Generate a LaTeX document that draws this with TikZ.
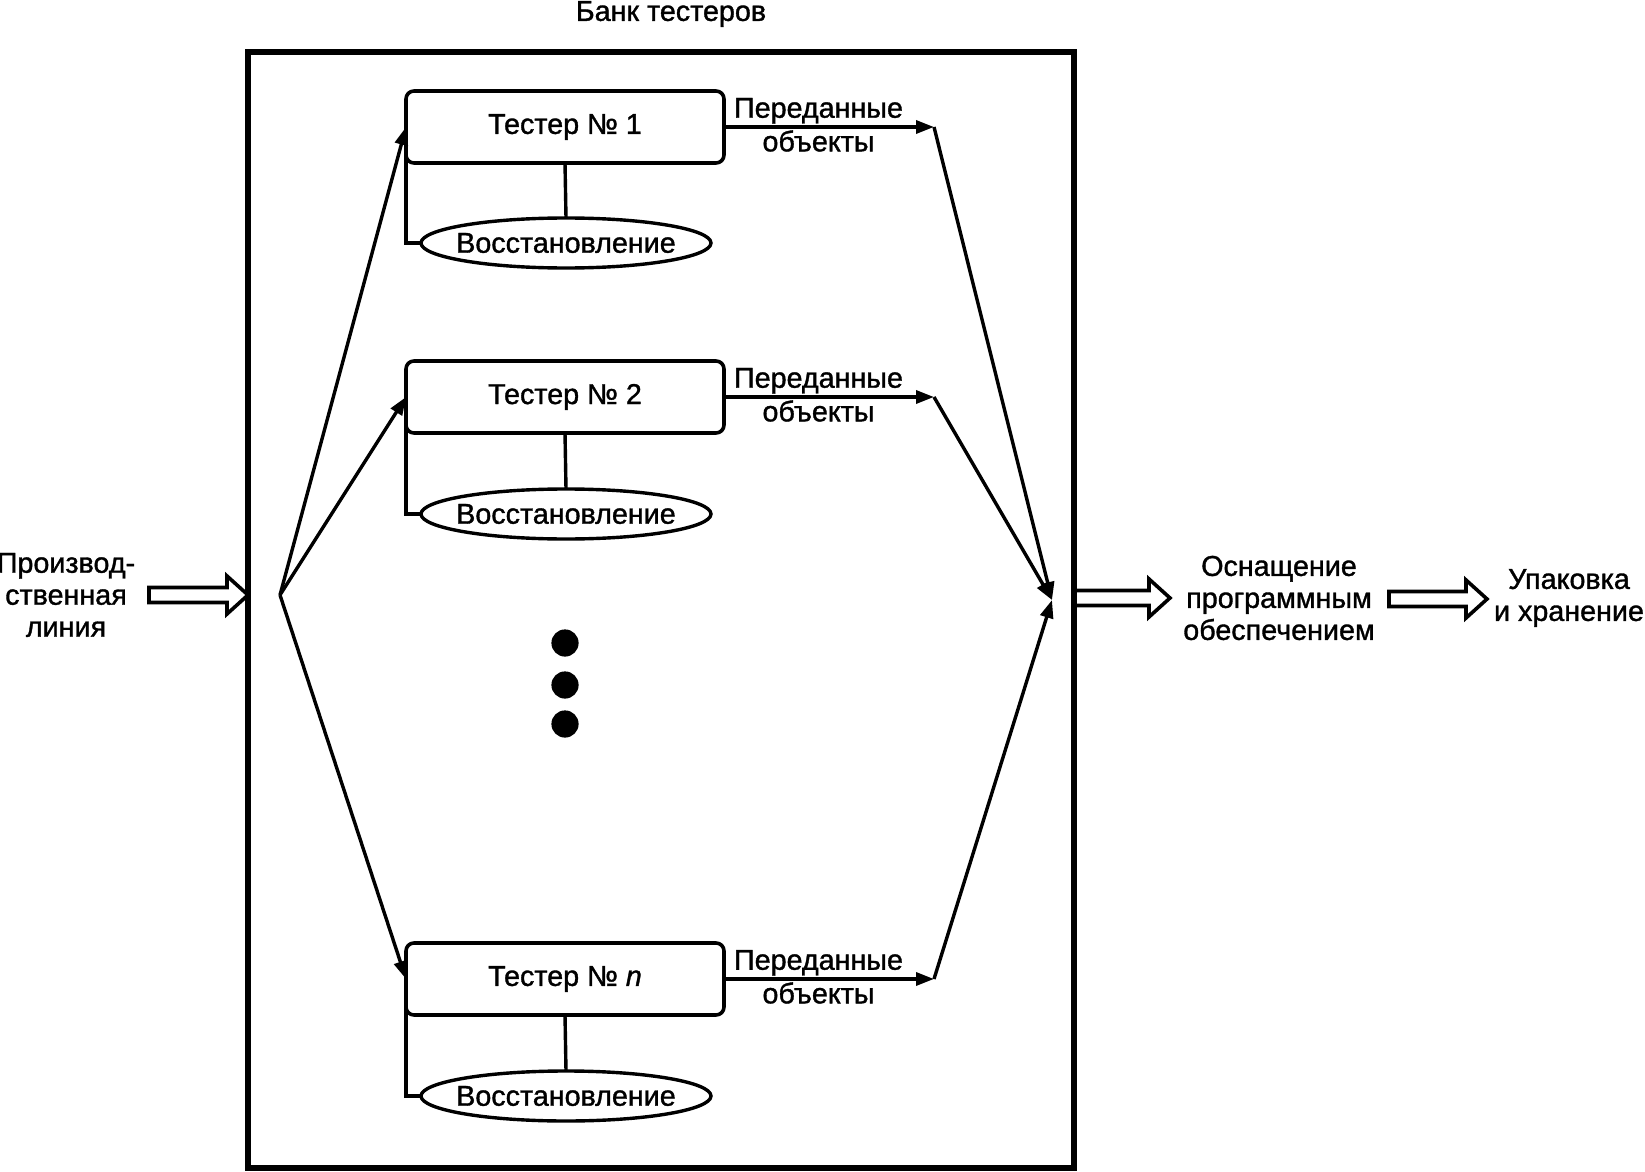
\documentclass[tikz,border=0pt]{standalone}
\usepackage{fontspec}
\setmainfont{Liberation Sans}[FakeBold=1.2]
\usetikzlibrary{arrows.meta,positioning,calc,shapes.geometric}
\tikzset{
  tester/.style={draw,line width=1.8pt,rounded corners=4pt,outer sep=0pt,
    minimum width=159pt,minimum height=36pt,inner sep=0pt},
  repair/.style={draw,ellipse,line width=1.7pt,outer sep=0pt,
    minimum width=145pt,minimum height=25pt,inner ysep=0pt,inner xsep=-6pt},
  flow/.style={line width=1.7pt,-{Triangle[length=9pt,width=6.5pt]}},
  link/.style={line width=1.7pt},
  fatline/.style={line width=1.8pt,line join=miter},
  lbl/.style={align=center,inner sep=0.8pt},
  dot/.style={circle,fill,minimum size=13.6pt,inner sep=0pt}
}
\newcommand{\fatarrow}[2]{%
  \draw[fatline] ($(#1)+(0,-7.5)$) -- ($(#2)+(-21,-7.5)$) -- ($(#2)+(-21,-19)$) -- (#2)
    -- ($(#2)+(-21,19)$) -- ($(#2)+(-21,7.5)$) -- ($(#1)+(0,7.5)$) -- cycle;}

\begin{document}
\begin{tikzpicture}[x=0.5pt,y=-0.5pt,font=\fontsize{14.35}{16}\selectfont]
  \useasboundingbox (0,0) rectangle (1645,1172);
  % tester bank
  \node[lbl] (title) at (671,14) {Банк тестеров};
  \coordinate (bank nw) at (248,52);
  \coordinate (bank se) at (1074,1168);
  \draw[line width=2.6pt] (bank nw) rectangle (bank se);
  % testers and their repair
  \node[tester] (t1) at (565,127) {Тестер № 1};
  \node[tester] (t2) at (565,397) {Тестер № 2};
  \node[tester] (tn) at (565,979) {Тестер № \textit{n}};
  \node[repair] (e1) at (566,243) {Восстановление};
  \node[repair] (e2) at (566,514) {Восстановление};
  \node[repair] (en) at (566,1096) {Восстановление};
  \foreach \t/\e in {t1/e1,t2/e2,tn/en}{
    \draw[link] (\t.south) -- (\e.north);
    \draw[link] (\t.west) |- (\e.west);
  }
  \node[dot] (d1) at (565,643) {};
  \node[dot] (d2) at (565,685) {};
  \node[dot] (d3) at (565,724) {};
  % split and merge
  \coordinate (split) at (280,595);
  \coordinate (merge) at (1052,600);
  \coordinate (o1) at (934,127);
  \coordinate (o2) at (934,397);
  \coordinate (on) at (934,979);
  \foreach \t/\o in {t1/o1,t2/o2,tn/on}{
    \draw[flow] (split) -- (\t.west);
    \draw[flow] (\t.east) -- node[pos=0.45,above,lbl] {Переданные}
      node[pos=0.45,below,lbl] {объекты} (\o);
    \draw[flow] (\o) -- (merge);
  }
  % outside stages
  \node[lbl] (line) at (66,595) {Производ-\\ственная\\линия};
  \node[lbl] (soft) at (1279,598) {Оснащение\\программным\\обеспечением};
  \node[lbl] (pack) at (1569,598) {Упаковка\\и хранение};
  \coordinate (a1 tail) at (149,595);
  \coordinate (a1 tip) at (248,595);
  \coordinate (a2 tail) at (1074,598);
  \coordinate (a2 tip) at (1170,598);
  \coordinate (a3 tail) at (1389,599);
  \coordinate (a3 tip) at (1487,599);
  \fatarrow{a1 tail}{a1 tip}
  \fatarrow{a2 tail}{a2 tip}
  \fatarrow{a3 tail}{a3 tip}
\end{tikzpicture}
\end{document}
